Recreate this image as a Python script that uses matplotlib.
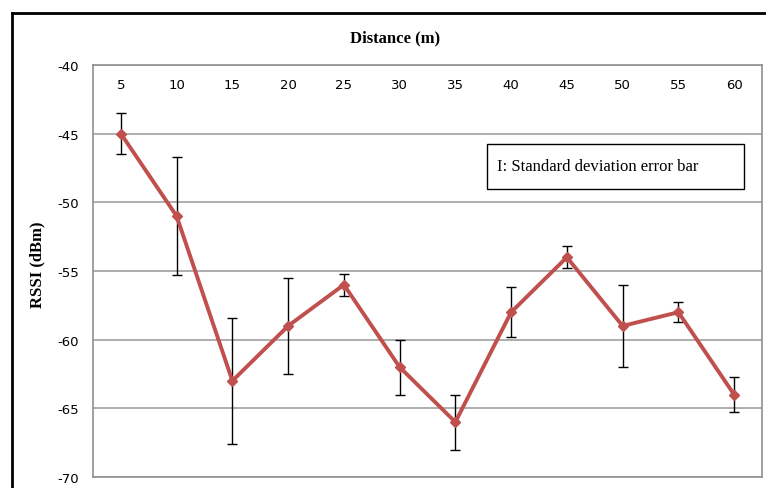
import matplotlib.pyplot as plt
from matplotlib.lines import Line2D
from matplotlib.patches import Rectangle

plt.rcParams['axes.unicode_minus'] = False

# RSSI vs distance, with standard deviation error bars
distance = ['5', '10', '15', '20', '25', '30', '35', '40', '45', '50', '55', '60']
rssi = [-45, -51, -63, -59, -56, -62, -66, -58, -54, -59, -58, -64]
rssi_std = [1.5, 4.3, 4.6, 3.5, 0.8, 2.0, 2.0, 1.8, 0.8, 3.0, 0.75, 1.3]

fig = plt.figure(figsize=(7.66, 4.89), dpi=100)
ax = fig.add_axes([93 / 766, 1 - 478 / 489, (762 - 93) / 766, (478 - 66) / 489])

pos = list(range(len(distance)))
ax.errorbar(pos, rssi, yerr=rssi_std, fmt='none', ecolor='black',
            elinewidth=1, capsize=3.5, capthick=1, zorder=3)
ax.plot(pos, rssi, color='#C0504D', linewidth=2.8, marker='D',
        markersize=5.5, zorder=4)

ax.set_xlim(-0.5, len(distance) - 0.5)
ax.set_ylim(-70, -40)
ax.set_yticks(range(-70, -39, 5))
ax.set_xticks(pos)
ax.set_xticklabels(distance)
ax.xaxis.tick_top()
ax.tick_params(axis='x', length=0, pad=-19, labelsize=9.5)
ax.tick_params(axis='y', length=0, pad=10, labelsize=9.5)
ax.yaxis.grid(True, color='#A0A0A0', linewidth=1.2)
ax.set_axisbelow(True)
for s in ax.spines.values():
    s.set_color('#909090')
    s.set_linewidth(1.2)

serif = ['Liberation Serif', 'DejaVu Serif']
fig.text(395 / 766, 1 - 38 / 489, 'Distance (m)', ha='center', va='center',
         family=serif, fontweight='bold', fontsize=12)
fig.text(37 / 766, 1 - 265 / 489, 'RSSI (dBm)', ha='center', va='center',
         rotation=90, family=serif, fontweight='bold', fontsize=12)

# legend-like note box
fig.add_artist(Rectangle((487 / 766, 1 - 190 / 489), (744 - 487) / 766, 45 / 489,
                         transform=fig.transFigure, facecolor='white',
                         edgecolor='black', linewidth=1, zorder=5))
fig.text(497 / 766, 1 - 167 / 489, 'I: Standard deviation error bar', ha='left',
         va='center', family=serif, fontsize=12, zorder=6)

# outer frame
fig.add_artist(Line2D([12 / 766, 1], [1 - 14 / 489] * 2, color='black', linewidth=2))
fig.add_artist(Line2D([12 / 766] * 2, [0, 1 - 14 / 489], color='black', linewidth=2))

fig.savefig('out.png', dpi=100)
